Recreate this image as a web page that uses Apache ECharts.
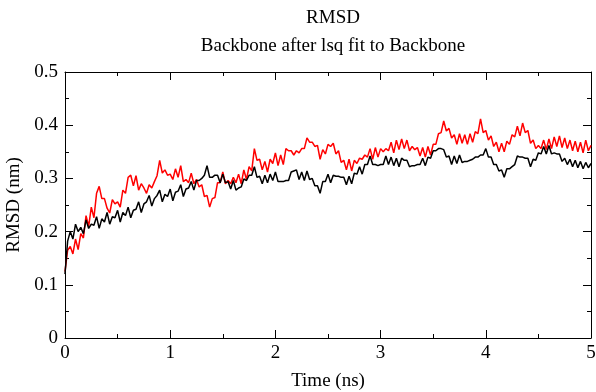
<!DOCTYPE html>
<html>
<head>
<meta charset="utf-8">
<script src="https://cdn.jsdelivr.net/npm/echarts@6/dist/echarts.min.js"></script>
<style>
  html, body { margin: 0; padding: 0; background: #fff; }
  #chart { width: 596px; height: 392px; }
</style>
</head>
<body>
<div id="chart"></div>
<script>
// sampling step of the trajectory (ns)
const dt = 0.025

// RMSD (nm), red trace
const rmsdRed = [
  0.125, 0.165, 0.172, 0.158, 0.186, 0.166, 0.196, 0.188, 0.23, 0.21,
  0.246, 0.226, 0.272, 0.285, 0.262, 0.262, 0.244, 0.235, 0.26, 0.252,
  0.256, 0.246, 0.278, 0.272, 0.302, 0.306, 0.286, 0.305, 0.278, 0.29,
  0.282, 0.272, 0.288, 0.282, 0.294, 0.305, 0.334, 0.31, 0.316, 0.306,
  0.308, 0.298, 0.318, 0.302, 0.324, 0.294, 0.298, 0.292, 0.31, 0.29,
  0.298, 0.284, 0.288, 0.266, 0.268, 0.246, 0.262, 0.264, 0.292, 0.292,
  0.312, 0.29, 0.296, 0.29, 0.302, 0.292, 0.308, 0.29, 0.316, 0.298,
  0.322, 0.314, 0.356, 0.334, 0.336, 0.316, 0.332, 0.312, 0.336, 0.328,
  0.348, 0.324, 0.344, 0.326, 0.356, 0.352, 0.352, 0.344, 0.352, 0.348,
  0.356, 0.356, 0.376, 0.368, 0.368, 0.36, 0.362, 0.336, 0.354, 0.346,
  0.364, 0.36, 0.366, 0.346, 0.352, 0.33, 0.334, 0.316, 0.336, 0.314,
  0.334, 0.328, 0.338, 0.336, 0.344, 0.34, 0.356, 0.336, 0.358, 0.34,
  0.356, 0.35, 0.356, 0.352, 0.368, 0.348, 0.372, 0.354, 0.374, 0.356,
  0.372, 0.352, 0.36, 0.354, 0.358, 0.342, 0.358, 0.34, 0.36, 0.344,
  0.364, 0.364, 0.384, 0.386, 0.408, 0.389, 0.394, 0.376, 0.382, 0.364,
  0.384, 0.366, 0.382, 0.364, 0.384, 0.368, 0.388, 0.384, 0.412, 0.386,
  0.39, 0.372, 0.38, 0.36, 0.368, 0.35, 0.366, 0.35, 0.37, 0.364,
  0.382, 0.378, 0.398, 0.38, 0.404, 0.386, 0.39, 0.366, 0.372, 0.356,
  0.362, 0.356, 0.372, 0.354, 0.374, 0.356, 0.378, 0.36, 0.38, 0.358,
  0.376, 0.356, 0.372, 0.352, 0.37, 0.35, 0.368, 0.348, 0.372, 0.352,
  0.362
]

// RMSD (nm), black trace
const rmsdBlack = [
  0.12, 0.182, 0.2, 0.186, 0.214, 0.2, 0.208, 0.196, 0.222, 0.206,
  0.214, 0.212, 0.228, 0.206, 0.224, 0.218, 0.236, 0.214, 0.228, 0.226,
  0.24, 0.218, 0.236, 0.23, 0.246, 0.226, 0.24, 0.242, 0.256, 0.236,
  0.252, 0.256, 0.268, 0.248, 0.262, 0.268, 0.278, 0.256, 0.27, 0.266,
  0.28, 0.258, 0.274, 0.276, 0.288, 0.266, 0.28, 0.282, 0.294, 0.278,
  0.296, 0.296, 0.3, 0.306, 0.324, 0.302, 0.302, 0.306, 0.306, 0.292,
  0.308, 0.292, 0.294, 0.28, 0.296, 0.278, 0.282, 0.284, 0.299, 0.296,
  0.306, 0.306, 0.322, 0.302, 0.304, 0.29, 0.306, 0.292, 0.308, 0.296,
  0.312, 0.294, 0.294, 0.294, 0.296, 0.296, 0.312, 0.314, 0.316, 0.298,
  0.312, 0.296, 0.314, 0.298, 0.3, 0.286, 0.286, 0.272, 0.294, 0.294,
  0.308, 0.292, 0.306, 0.304, 0.304, 0.302, 0.302, 0.288, 0.304, 0.29,
  0.31, 0.308, 0.322, 0.308, 0.326, 0.326, 0.342, 0.326, 0.326, 0.324,
  0.326, 0.326, 0.342, 0.326, 0.34, 0.324, 0.338, 0.322, 0.338, 0.334,
  0.334, 0.322, 0.324, 0.324, 0.326, 0.326, 0.338, 0.324, 0.34, 0.338,
  0.352, 0.352, 0.356, 0.356, 0.354, 0.34, 0.342, 0.326, 0.342, 0.328,
  0.344, 0.33, 0.332, 0.332, 0.334, 0.336, 0.34, 0.34, 0.344, 0.344,
  0.356, 0.34, 0.34, 0.326, 0.326, 0.314, 0.316, 0.302, 0.318, 0.318,
  0.322, 0.326, 0.342, 0.34, 0.34, 0.338, 0.338, 0.322, 0.336, 0.334,
  0.348, 0.346, 0.36, 0.346, 0.362, 0.346, 0.348, 0.346, 0.346, 0.332,
  0.338, 0.326, 0.336, 0.322, 0.334, 0.32, 0.332, 0.318, 0.33, 0.32,
  0.328
]

const serif = 'Liberation Serif'
const toPairs = (arr) => arr.map((v, i) => [+(i * dt).toFixed(3), v])

const myChart = echarts.init(document.getElementById('chart'))

// 坐标轴公共样式（刻度朝内，四边都有）
const axisCommon = {
  axisLine: { onZero: false, lineStyle: { color: '#000', width: 1 } },
  axisTick: { inside: true, length: 8, lineStyle: { color: '#000' } },
  minorTick: { show: true, splitNumber: 2, length: 4, lineStyle: { color: '#000' } },
  splitLine: { show: false },
  minorSplitLine: { show: false }
}

const option = {
  animation: false,
  backgroundColor: '#fff',
  title: [
    {
      text: 'RMSD',
      left: 328,
      top: 4,
      textAlign: 'center',
      textStyle: { fontFamily: serif, fontSize: 19, fontWeight: 'normal', color: '#000' }
    },
    {
      text: 'Backbone after lsq fit to Backbone',
      left: 328,
      top: 32,
      textAlign: 'center',
      textStyle: { fontFamily: serif, fontSize: 19, fontWeight: 'normal', color: '#000' }
    }
  ],
  grid: { left: 65, right: 5, top: 72, bottom: 54, outerBoundsMode: 'none', containLabel: false },
  xAxis: [
    {
      type: 'value',
      min: 0,
      max: 5,
      interval: 1,
      name: 'Time (ns)',
      nameLocation: 'middle',
      nameGap: 34,
      nameTextStyle: { fontFamily: serif, fontSize: 19, color: '#000' },
      axisLabel: { fontFamily: serif, fontSize: 19, color: '#000', margin: 6 },
      ...axisCommon
    },
    {
      type: 'value',
      position: 'top',
      min: 0,
      max: 5,
      interval: 1,
      axisLabel: { show: false },
      ...axisCommon
    }
  ],
  yAxis: [
    {
      type: 'value',
      min: 0,
      max: 0.5,
      interval: 0.1,
      name: 'RMSD (nm)',
      nameLocation: 'middle',
      nameGap: 29,
      nameTextStyle: { fontFamily: serif, fontSize: 19, color: '#000' },
      axisLabel: { fontFamily: serif, fontSize: 19, color: '#000', margin: 7 },
      ...axisCommon
    },
    {
      type: 'value',
      position: 'right',
      min: 0,
      max: 0.5,
      interval: 0.1,
      axisLabel: { show: false },
      ...axisCommon
    }
  ],
  series: [
    {
      name: 'red',
      type: 'line',
      showSymbol: false,
      lineStyle: { color: '#ff0000', width: 1.5 },
      data: toPairs(rmsdRed)
    },
    {
      name: 'black',
      type: 'line',
      showSymbol: false,
      lineStyle: { color: '#000000', width: 1.5 },
      data: toPairs(rmsdBlack)
    }
  ]
}
myChart.setOption(option)
</script>
</body>
</html>
